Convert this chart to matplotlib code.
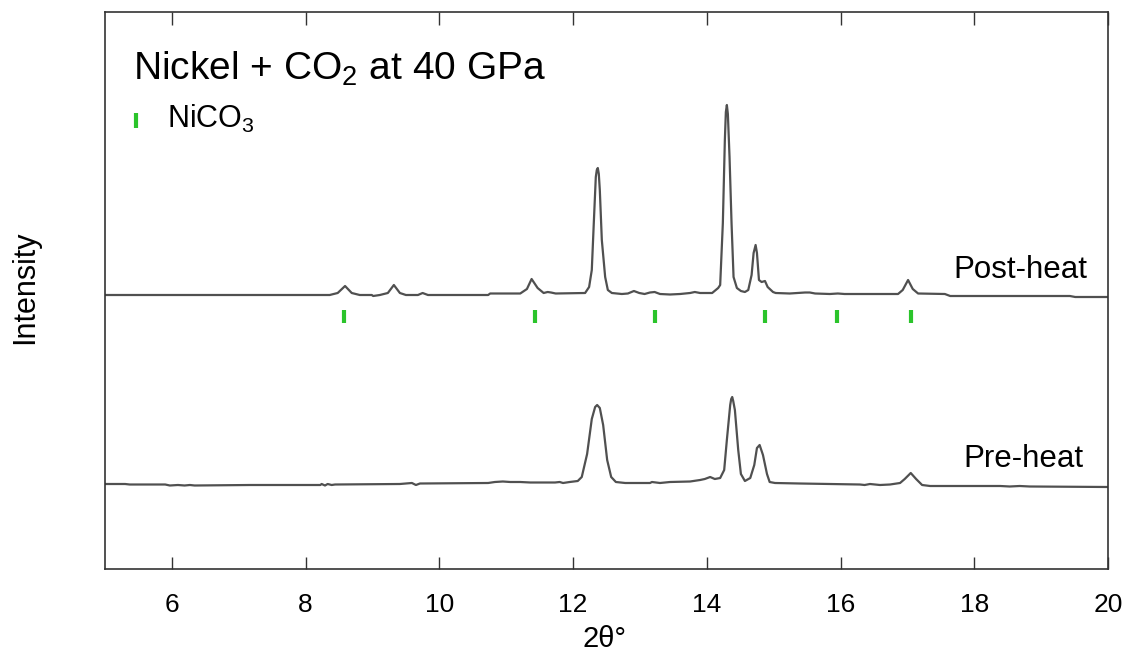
import matplotlib
matplotlib.use("Agg")
import matplotlib.pyplot as plt
import numpy as np

plt.rcParams["font.family"] = ["Liberation Sans", "DejaVu Sans"]
plt.rcParams["mathtext.fontset"] = "custom"
plt.rcParams["mathtext.rm"] = "Liberation Sans"
plt.rcParams["mathtext.it"] = "Liberation Sans:italic"
plt.rcParams["mathtext.default"] = "rm"

# ---- Post-heat pattern (2θ in degrees, intensity in arbitrary units) ----
post_two_theta = [
    5.00, 8.36, 8.48, 8.59, 8.69, 8.81, 8.99, 9.01, 9.11, 9.23, 9.32, 9.41,
    9.50, 9.68, 9.75, 9.83, 10.73, 10.76, 11.21, 11.31, 11.38, 11.47, 11.56,
    11.62, 11.67, 11.74, 12.18, 12.24, 12.28, 12.31, 12.34, 12.355, 12.37,
    12.385, 12.40, 12.43, 12.48, 12.52, 12.58, 12.73, 12.82, 12.91, 12.99,
    13.07, 13.15, 13.22, 13.30, 13.45, 13.60, 13.75, 13.82, 13.90, 14.08,
    14.17, 14.20, 14.24, 14.27, 14.285, 14.30, 14.315, 14.34, 14.37, 14.40,
    14.45, 14.51, 14.57, 14.62, 14.67, 14.70, 14.73, 14.75, 14.78, 14.82,
    14.87, 14.91, 14.99, 15.03, 15.24, 15.47, 15.54, 15.62, 15.84, 15.96,
    16.06, 16.86, 16.93, 17.01, 17.08, 17.16, 17.56, 17.64, 19.43, 19.51,
    20.00,
]
post_intensity = [
    5, 5, 7, 14, 7, 5, 5, 4, 5, 7, 15, 7,
    5, 5, 7, 5, 5, 6.5, 6.5, 11, 21, 12, 7,
    8, 7.5, 6.5, 7, 13, 30, 77, 123, 130, 132,
    126, 110, 60, 23, 10, 7, 6, 6.5, 9, 7,
    6, 7.5, 8, 6, 5.5, 6, 7, 8, 7, 7,
    12, 15, 77, 160, 188, 195, 186, 143, 77, 23,
    12, 9, 8, 10, 25, 47, 55, 47, 20, 18,
    19, 13, 8, 7, 6.5, 7.5, 7.5, 6.5, 6, 6.5,
    6, 6, 10, 20, 11, 6.5, 6, 4, 4, 3,
    3,
]

# ---- Pre-heat pattern ----
pre_two_theta = [
    5.00, 5.30, 5.37, 5.90, 5.97, 6.09, 6.19, 6.27, 6.34, 7.17, 8.22, 8.24,
    8.29, 8.33, 8.39, 8.44, 9.41, 9.59, 9.65, 9.71, 10.73, 10.83, 10.95,
    11.06, 11.21, 11.36, 11.73, 11.80, 11.85, 11.95, 12.07, 12.13, 12.21,
    12.28, 12.33, 12.36, 12.40, 12.45, 12.51, 12.57, 12.64, 12.78, 13.15,
    13.18, 13.30, 13.45, 13.75, 13.90, 13.97, 14.05, 14.12, 14.20, 14.26,
    14.30, 14.35, 14.365, 14.38, 14.395, 14.42, 14.47, 14.51, 14.57, 14.65,
    14.71, 14.75, 14.79, 14.84, 14.90, 14.94, 15.02, 15.39, 16.29, 16.36,
    16.44, 16.59, 16.74, 16.89, 16.96, 17.05, 17.13, 17.22, 17.34, 18.39,
    18.53, 18.68, 18.83, 20.00,
]
pre_intensity = [
    6, 6, 5.5, 5.5, 4.5, 5, 4.5, 5, 4.5, 5, 5, 6,
    4.5, 6, 5, 5.5, 6, 7, 5, 6.5, 7, 8, 8.5,
    8, 8, 7.5, 7.5, 8, 7, 8, 9, 13, 36,
    71, 83, 85, 82, 65, 30, 13, 8, 7, 7,
    8, 7, 8, 8.5, 10, 11, 13, 11, 12, 20,
    50, 85, 91, 93, 89, 80, 40, 16, 9, 12,
    25, 42, 45, 35, 16, 8, 7, 6.5, 5.5, 5,
    6, 5, 5.5, 7, 11, 17, 11, 5, 4, 4,
    3.5, 4, 3.5, 3,
]

# ---- Calculated NiCO3 reflection positions ----
nico3_positions = [8.58, 11.43, 13.22, 14.87, 15.95, 17.05]

x_ticks = [6, 8, 10, 12, 14, 16, 18, 20]

# vertical stacking of the two patterns
post_offset = 269
pre_offset = 79
line_color = "#505050"
green = "#2bc42b"

fig = plt.figure(figsize=(11.27, 6.55), dpi=100)
ax = fig.add_axes([105 / 1127, 86 / 655, 1003 / 1127, 557 / 655])

ax.plot(post_two_theta, np.asarray(post_intensity) + post_offset,
        color=line_color, lw=1.6, solid_joinstyle="round")
ax.plot(pre_two_theta, np.asarray(pre_intensity) + pre_offset,
        color=line_color, lw=1.6, solid_joinstyle="round")

ax.vlines(nico3_positions, 246, 259, color=green, lw=3.0)

ax.set_xlim(5, 20)
ax.set_ylim(0, 557)
ax.set_xticks(x_ticks)
ax.set_yticks([])
ax.tick_params(axis="x", direction="in", length=9, width=1.0, color="#333333",
               top=True, bottom=True, labelsize=19, pad=17)
for sp in ax.spines.values():
    sp.set_linewidth(1.2)
    sp.set_color("#333333")

ax.text(0.028, 0.878, "Nickel + CO$_2$ at 40 GPa", transform=ax.transAxes,
        fontsize=28, ha="left", va="baseline")
ax.plot([0.031, 0.031], [0.792, 0.819], transform=ax.transAxes,
        color=green, lw=3.0, solid_capstyle="butt")
ax.text(0.062, 0.792, "NiCO$_3$", transform=ax.transAxes,
        fontsize=22, ha="left", va="baseline")

ax.text(0.8455, 0.5224, "Post-heat", transform=ax.transAxes,
        fontsize=22.5, ha="left", va="baseline")
ax.text(0.8554, 0.1831, "Pre-heat", transform=ax.transAxes,
        fontsize=22.5, ha="left", va="baseline")

fig.text(25 / 1127, 1 - 287.5 / 655, "Intensity", rotation=90,
         ha="center", va="center", fontsize=22)
fig.text(604 / 1127, 1 - 639 / 655, "2θ°", ha="center", va="center",
         fontsize=21)

fig.savefig("out.png", dpi=100)
